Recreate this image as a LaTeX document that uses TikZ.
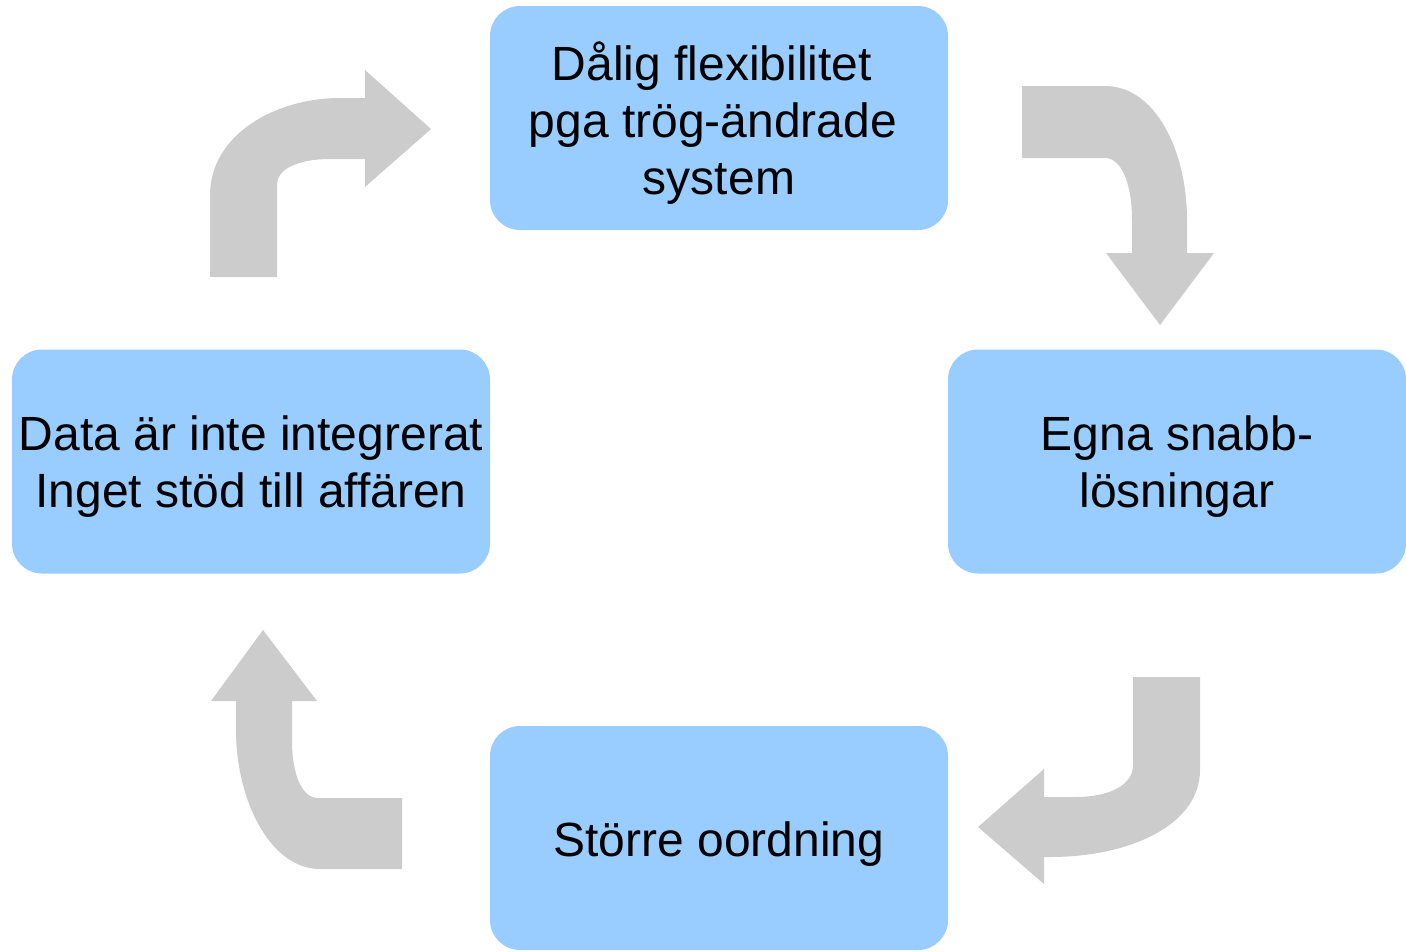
\documentclass[tikz,border=0pt]{standalone}
\usepackage{fontspec}
\setmainfont{Liberation Sans}
\definecolor{boxblue}{HTML}{99CCFF}
\definecolor{arrowgray}{HTML}{CCCCCC}
\begin{document}
\begin{tikzpicture}[x=1pt,y=-1pt,
  stepbox/.style={fill=boxblue,draw=none,rounded corners=30pt,minimum width=458pt,minimum height=224pt,inner sep=0pt},
  steptext/.style={align=center,inner sep=0pt,font=\fontsize{48}{57}\selectfont},
  bentarrow/.style={fill=arrowgray,draw=none}]
\useasboundingbox (0,0) rectangle (1406,951);
\node[stepbox] (top) at (719,118) {};
\node[stepbox,minimum width=478pt] (left) at (251,461.5) {};
\node[stepbox] (right) at (1177,461.5) {};
\node[stepbox] (bottom) at (719,838) {};
\node[steptext] (toptext) at ([yshift=-5pt]top.center) {Dålig flexibilitet\kern14pt\\pga trög-ändrade\kern12pt\\system};
\node[steptext] (lefttext) at ([yshift=-5pt]left.center) {Data är inte integrerat\\Inget stöd till affären};
\node[steptext] (righttext) at ([yshift=-5pt]right.center) {Egna snabb-\\lösningar};
\node[steptext] (bottomtext) at ([yshift=-6pt]bottom.center) {Större oordning};
% arrow left -> top
\fill[bentarrow] (210,277) -- (210,195) .. controls (210,135) and (275,98) .. (340,98) -- (365,98) -- (365,70) -- (431,129) -- (365,187) -- (365,159) -- (330,159) .. controls (300,159) and (277,168) .. (277,185) -- (277,277) -- cycle;
% arrow top -> right
\fill[bentarrow] (1022,86) -- (1105,86) .. controls (1155,86) and (1187,150) .. (1187,220) -- (1187,253) -- (1214,253) -- (1160,325) -- (1106,253) -- (1132,253) -- (1132,220) .. controls (1132,185) and (1122,158) .. (1105,158) -- (1022,158) -- cycle;
% arrow right -> bottom
\fill[bentarrow] (1133,677) -- (1200,677) -- (1200,770) .. controls (1200,825) and (1130,857) .. (1050,857) -- (1044,857) -- (1044,884) -- (978,827) -- (1044,769) -- (1044,797) -- (1075,797) .. controls (1110,797) and (1133,785) .. (1133,765) -- cycle;
% arrow bottom -> left
\fill[bentarrow] (402,798) -- (402,869) -- (320,869) .. controls (270,869) and (236,800) .. (236,730) -- (236,701) -- (211,701) -- (263,630) -- (317,701) -- (292,701) -- (292,740) .. controls (292,775) and (302,798) .. (318,798) -- cycle;
\end{tikzpicture}
\end{document}
